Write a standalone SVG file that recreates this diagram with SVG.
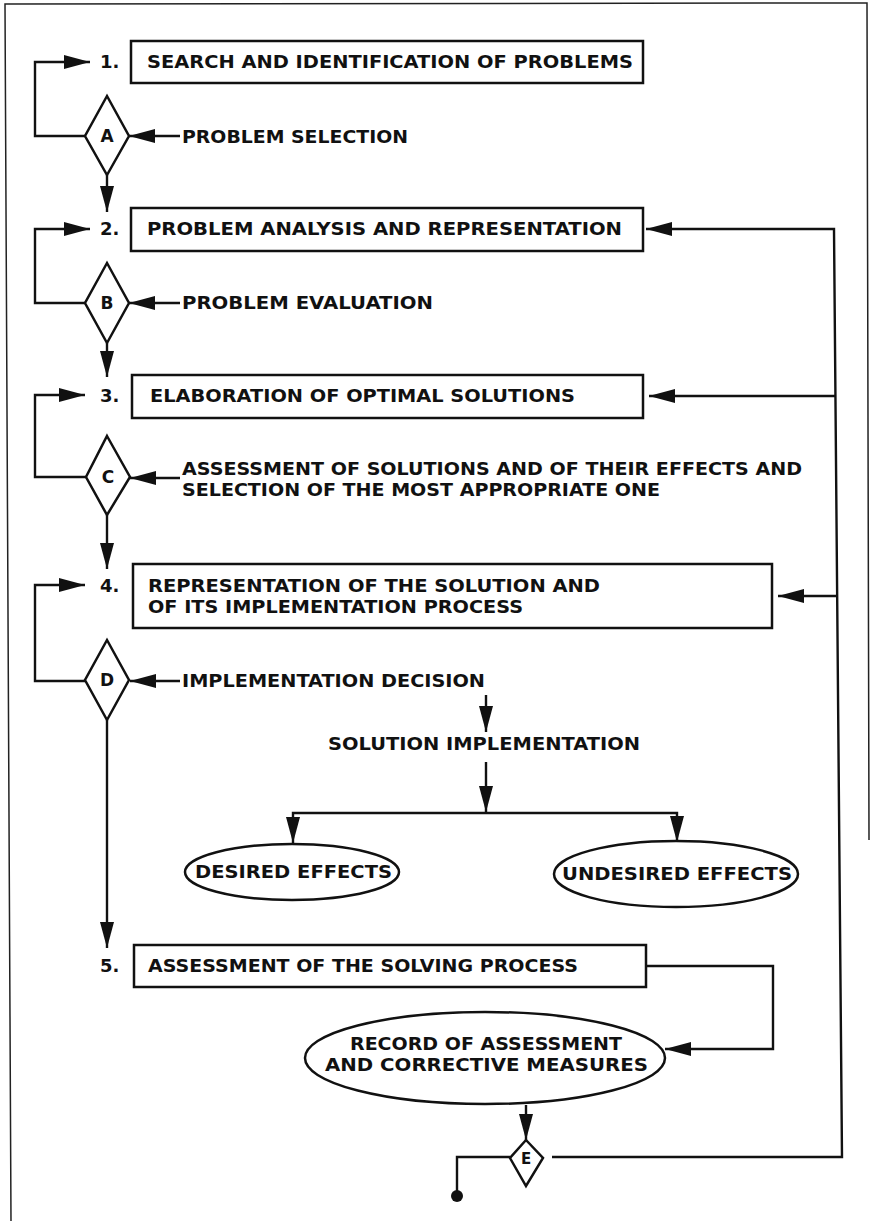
<svg xmlns="http://www.w3.org/2000/svg" width="870" height="1221" viewBox="0 0 870 1221">
<style>
.t{font-family:"DejaVu Sans","Liberation Sans",Arial,sans-serif;font-weight:bold;font-size:18px;fill:#111}
.s{font-size:17px}
.d{font-family:"DejaVu Sans","Liberation Sans",Arial,sans-serif;font-weight:bold;font-size:17px;fill:#111;text-anchor:middle}
.box{fill:#fff;stroke:#111;stroke-width:2.5}
.c{fill:none;stroke:#111;stroke-width:2.4}
.frame{fill:none;stroke:#222;stroke-width:1.5}
</style>
<defs>
<marker id="ah" markerUnits="userSpaceOnUse" markerWidth="27" markerHeight="14" refX="26" refY="7" orient="auto">
<path d="M0,0 L26,7 L0,14 Z" fill="#111"/>
</marker>
</defs>
<rect width="870" height="1221" fill="#fff"/>
<path class="frame" d="M11,1221 L5,4 L867,3 L869,840"/>

<g id="connectors">
<path class="c" d="M85,136 H35 V62 H90" marker-end="url(#ah)"/>
<path class="c" d="M180,136 H129" marker-end="url(#ah)"/>
<path class="c" d="M107,175 V212" marker-end="url(#ah)"/>
<path class="c" d="M85,303 H35 V229 H90" marker-end="url(#ah)"/>
<path class="c" d="M180,303 H129" marker-end="url(#ah)"/>
<path class="c" d="M107,343 V377" marker-end="url(#ah)"/>
<path class="c" d="M86,477 H35 V395 H85" marker-end="url(#ah)"/>
<path class="c" d="M180,478 H130" marker-end="url(#ah)"/>
<path class="c" d="M107,515 V569" marker-end="url(#ah)"/>
<path class="c" d="M85,681 H35 V585 H85" marker-end="url(#ah)"/>
<path class="c" d="M180,681 H130" marker-end="url(#ah)"/>
<path class="c" d="M107,720 V948" marker-end="url(#ah)"/>
<path class="c" d="M486,695 V732" marker-end="url(#ah)"/>
<path class="c" d="M486,762 V812" marker-end="url(#ah)"/>
<path class="c" d="M486,813 H293 V843" marker-end="url(#ah)"/>
<path class="c" d="M486,813 H677 V842" marker-end="url(#ah)"/>
<path class="c" d="M646,966 H773 V1049 H665" marker-end="url(#ah)"/>
<path class="c" d="M526,1105 V1140" marker-end="url(#ah)"/>
<path class="c" d="M510,1157 H457 V1196"/>
<circle cx="457" cy="1196" r="6" fill="#111"/>
<path class="c" d="M552,1157 H842 L834,229 H646" marker-end="url(#ah)"/>
<path class="c" d="M835,396 H649" marker-end="url(#ah)"/>
<path class="c" d="M837,596 H778" marker-end="url(#ah)"/>
</g>

<g id="step1">
<text class="t" x="100" y="68">1.</text>
<rect class="box" x="131" y="41" width="512" height="42"/>
<text class="t" x="147" y="68" textLength="486" lengthAdjust="spacingAndGlyphs">SEARCH AND IDENTIFICATION OF PROBLEMS</text>
</g>
<g id="decisionA">
<path class="box" d="M107,96 L129,136 L107,175 L85,136 Z"/>
<text class="d" x="107" y="142">A</text>
<text class="t" x="182" y="143" textLength="226" lengthAdjust="spacingAndGlyphs">PROBLEM SELECTION</text>
</g>

<g id="step2">
<text class="t" x="100" y="235">2.</text>
<rect class="box" x="131" y="208" width="512" height="43"/>
<text class="t" x="147" y="235" textLength="475" lengthAdjust="spacingAndGlyphs">PROBLEM ANALYSIS AND REPRESENTATION</text>
</g>
<g id="decisionB">
<path class="box" d="M107,263 L129,303 L107,343 L85,303 Z"/>
<text class="d" x="107" y="309">B</text>
<text class="t" x="182" y="309" textLength="251" lengthAdjust="spacingAndGlyphs">PROBLEM EVALUATION</text>
</g>

<g id="step3">
<text class="t" x="100" y="402">3.</text>
<rect class="box" x="132" y="375" width="511" height="43"/>
<text class="t" x="150" y="402" textLength="425" lengthAdjust="spacingAndGlyphs">ELABORATION OF OPTIMAL SOLUTIONS</text>
</g>
<g id="decisionC">
<path class="box" d="M107,436 L130,477 L107,515 L86,477 Z"/>
<text class="d" x="108" y="483">C</text>
<text class="t s" x="182" y="475" textLength="620" lengthAdjust="spacingAndGlyphs">ASSESSMENT OF SOLUTIONS AND OF THEIR EFFECTS AND</text>
<text class="t s" x="182" y="496" textLength="478" lengthAdjust="spacingAndGlyphs">SELECTION OF THE MOST APPROPRIATE ONE</text>
</g>

<g id="step4">
<text class="t" x="100" y="592">4.</text>
<rect class="box" x="133" y="564" width="639" height="64"/>
<text class="t s" x="148" y="592" textLength="452" lengthAdjust="spacingAndGlyphs">REPRESENTATION OF THE SOLUTION AND</text>
<text class="t s" x="148" y="613" textLength="375" lengthAdjust="spacingAndGlyphs">OF ITS IMPLEMENTATION PROCESS</text>
</g>
<g id="decisionD">
<path class="box" d="M107,640 L129,680 L107,720 L85,680 Z"/>
<text class="d" x="107" y="686">D</text>
<text class="t s" x="182" y="687" textLength="303" lengthAdjust="spacingAndGlyphs">IMPLEMENTATION DECISION</text>
</g>

<g id="implementation">
<text class="t s" x="328" y="750" textLength="312" lengthAdjust="spacingAndGlyphs">SOLUTION IMPLEMENTATION</text>
</g>
<g id="desired">
<ellipse class="box" cx="292" cy="872" rx="107" ry="28"/>
<text class="t s" x="195" y="878" textLength="197" lengthAdjust="spacingAndGlyphs">DESIRED EFFECTS</text>
</g>
<g id="undesired">
<ellipse class="box" cx="676" cy="874" rx="122" ry="33"/>
<text class="t s" x="562" y="880" textLength="230" lengthAdjust="spacingAndGlyphs">UNDESIRED EFFECTS</text>
</g>

<g id="step5">
<text class="t" x="100" y="972">5.</text>
<rect class="box" x="134" y="945" width="512" height="42"/>
<text class="t s" x="148" y="972" textLength="430" lengthAdjust="spacingAndGlyphs">ASSESSMENT OF THE SOLVING PROCESS</text>
</g>
<g id="record">
<ellipse class="box" cx="485" cy="1058" rx="180" ry="46"/>
<text class="t s" x="350" y="1050" textLength="272" lengthAdjust="spacingAndGlyphs">RECORD OF ASSESSMENT</text>
<text class="t s" x="325" y="1071" textLength="323" lengthAdjust="spacingAndGlyphs">AND CORRECTIVE MEASURES</text>
</g>
<g id="decisionE">
<path class="box" d="M526,1140 L543,1158 L526,1186 L510,1158 Z"/>
<text class="d" x="526" y="1164" style="font-size:15px">E</text>
</g>
</svg>
